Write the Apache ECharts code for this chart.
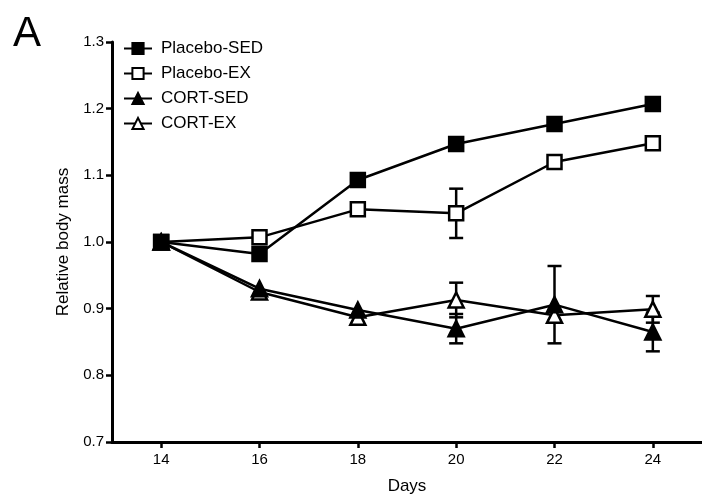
<!DOCTYPE html>
<html>
<head>
<meta charset="utf-8">
<script src="https://cdn.jsdelivr.net/npm/echarts@6/dist/echarts.min.js"></script>
<style>
html,body{margin:0;padding:0;background:#fff;}
#main{width:702px;height:500px;}
</style>
</head>
<body>
<div id="main"></div>
<script>
// data
var days = [14, 16, 18, 20, 22, 24];
var placeboSed = [1.0, 0.982, 1.093, 1.147, 1.177, 1.207];
var placeboEx = [1.0, 1.007, 1.049, 1.043, 1.120, 1.148];
var cortSed = [1.0, 0.930, 0.898, 0.870, 0.906, 0.865];
var cortEx = [1.0, 0.925, 0.887, 0.913, 0.890, 0.899];
// SEM (only the visible ones)
var placeboSedErr = [0, 0, 0, 0, 0, 0];
var placeboExErr = [0, 0, 0, 0.037, 0, 0];
var cortSedErr = [0, 0, 0, 0.022, 0.058, 0.029];
var cortExErr = [0, 0, 0, 0.026, 0.008, 0.02];
var xTicks = [14, 16, 18, 20, 22, 24];

var chart = echarts.init(document.getElementById('main'));

function pairs(vals) {
    var out = [];
    for (var i = 0; i < days.length; i++) out.push([days[i], vals[i]]);
    return out;
}
function errData(vals, err) {
    var out = [];
    for (var i = 0; i < days.length; i++) {
        if (err[i] > 0) out.push([days[i], vals[i] - err[i], vals[i] + err[i]]);
    }
    return out;
}
function errRender(params, api) {
    var x = api.value(0);
    var lo = api.coord([x, api.value(1)]);
    var hi = api.coord([x, api.value(2)]);
    var w = 7;
    var st = {stroke: '#000', lineWidth: 2.5};
    return {
        type: 'group',
        children: [
            {type: 'line', shape: {x1: lo[0], y1: lo[1], x2: hi[0], y2: hi[1]}, style: st},
            {type: 'line', shape: {x1: lo[0] - w, y1: lo[1], x2: lo[0] + w, y2: lo[1]}, style: st},
            {type: 'line', shape: {x1: hi[0] - w, y1: hi[1], x2: hi[0] + w, y2: hi[1]}, style: st}
        ]
    };
}
function lineSeries(name, vals, symbol, filled, z) {
    return {
        name: name,
        type: 'line',
        data: pairs(vals),
        symbol: symbol,
        symbolSize: symbol === 'rect' ? 14 : 15,
        showAllSymbol: true,
        z: z,
        lineStyle: {color: '#000', width: 2.5},
        itemStyle: {color: filled ? '#000' : '#fff', borderColor: '#000', borderWidth: 2.5, opacity: 1},
        emphasis: {disabled: true}
    };
}
function errSeries(name, vals, err) {
    return {
        name: name + ' err',
        type: 'custom',
        data: errData(vals, err),
        renderItem: errRender,
        z: 2,
        silent: true
    };
}

var font = 'Liberation Sans, Arial, sans-serif';

var option = {
    animation: false,
    backgroundColor: '#fff',
    title: {
        text: 'A',
        left: 8,
        top: 8,
        textStyle: {fontFamily: font, fontSize: 42, fontWeight: 'normal', color: '#000'}
    },
    legend: {
        orient: 'vertical',
        left: 118,
        top: 35,
        itemWidth: 28,
        itemHeight: 14,
        itemGap: 8,
        data: ['Placebo-SED', 'Placebo-EX', 'CORT-SED', 'CORT-EX'],
        textStyle: {fontFamily: font, fontSize: 17, color: '#000', padding: [0, 0, 0, 4]}
    },
    grid: {left: 112, top: 42, width: 596, height: 400},
    xAxis: {
        type: 'value',
        min: 13,
        max: 25,
        name: 'Days',
        nameLocation: 'middle',
        nameGap: 36,
        nameTextStyle: {fontFamily: font, fontSize: 17, color: '#000'},
        axisLine: {lineStyle: {color: '#000', width: 3}},
        axisTick: {customValues: xTicks, length: 6, lineStyle: {color: '#000', width: 2.5}},
        axisLabel: {customValues: xTicks, fontFamily: font, fontSize: 15, color: '#000', margin: 10},
        splitLine: {show: false}
    },
    yAxis: {
        type: 'value',
        min: 0.7,
        max: 1.3,
        interval: 0.1,
        name: 'Relative body mass',
        nameLocation: 'middle',
        nameGap: 35,
        nameTextStyle: {fontFamily: font, fontSize: 17, color: '#000'},
        axisLine: {show: true, lineStyle: {color: '#000', width: 3}},
        axisTick: {show: true, length: 6, lineStyle: {color: '#000', width: 2.5}},
        axisLabel: {fontFamily: font, fontSize: 15, color: '#000', margin: 8,
            formatter: function (v) { return v.toFixed(1); }},
        splitLine: {show: false}
    },
    series: [
        errSeries('Placebo-SED', placeboSed, placeboSedErr),
        errSeries('Placebo-EX', placeboEx, placeboExErr),
        errSeries('CORT-SED', cortSed, cortSedErr),
        errSeries('CORT-EX', cortEx, cortExErr),
        lineSeries('CORT-EX', cortEx, 'triangle', false, 3),
        lineSeries('CORT-SED', cortSed, 'triangle', true, 4),
        lineSeries('Placebo-EX', placeboEx, 'rect', false, 5),
        lineSeries('Placebo-SED', placeboSed, 'rect', true, 6)
    ]
};
chart.setOption(option);
</script>
</body>
</html>
